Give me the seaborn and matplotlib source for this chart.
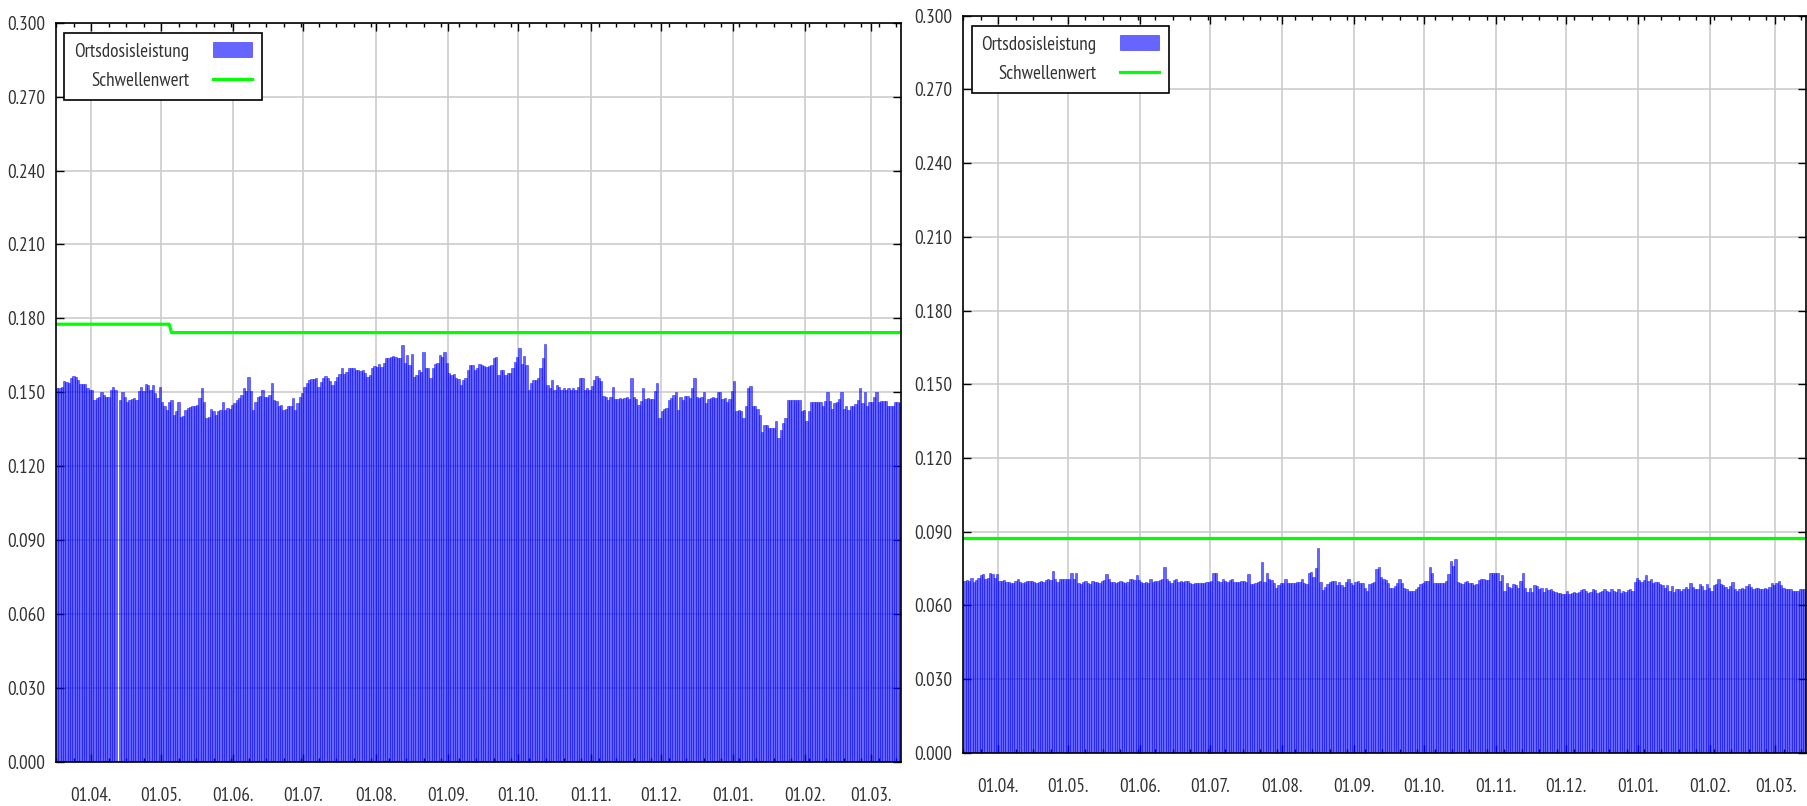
import matplotlib
matplotlib.use("Agg")
import numpy as np
import pandas as pd
import matplotlib.pyplot as plt
import matplotlib.dates as mdates
from matplotlib import font_manager
from matplotlib.ticker import AutoMinorLocator, FormatStrFormatter
import seaborn as sns


# one bar per day, first bar on 17.03.
start_day = "2018-03-17"
end_day = "2019-03-14"

left_values = [
    .1516, .1516, .1523, .1546, .1540, .1536, .1559, .1567, .1563, .1550,
    .1532, .1534, .1534, .1516, .1507, .1507, .1469, .1476, .1482, .1500,
    .1489, .1482, .1482, .1509, .1523, .1509, 0.0, .1469, .1500, .1482,
    .1462, .1469, .1473, .1476, .1469, .1503, .1523, .1503, .1532, .1530,
    .1509, .1530, .1496, .1476, .1523, .1462, .1442, .1428, .1462, .1469,
    .1408, .1424, .1462, .1401, .1404, .1428, .1435, .1439, .1442, .1442,
    .1449, .1476, .1516, .1462, .1395, .1401, .1433, .1422, .1408, .1422,
    .1428, .1462, .1428, .1435, .1433, .1449, .1455, .1469, .1476, .1489,
    .1516, .1503, .1563, .1503, .1428, .1462, .1482, .1486, .1509, .1482,
    .1482, .1489, .1536, .1469, .1465, .1442, .1449, .1428, .1433, .1442,
    .1442, .1476, .1428, .1455, .1482, .1496, .1523, .1536, .1550, .1553,
    .1554, .1557, .1523, .1543, .1557, .1567, .1557, .1546, .1530, .1546,
    .1563, .1573, .1597, .1573, .1584, .1597, .1597, .1597, .1590, .1590,
    .1586, .1590, .1577, .1563, .1570, .1597, .1608, .1604, .1613, .1604,
    .1617, .1638, .1638, .1644, .1647, .1642, .1640, .1638, .1692, .1617,
    .1651, .1611, .1654, .1563, .1570, .1590, .1584, .1662, .1597, .1597,
    .1559, .1597, .1613, .1617, .1651, .1644, .1662, .1617, .1577, .1570,
    .1573, .1557, .1554, .1530, .1550, .1559, .1590, .1611, .1611, .1590,
    .1597,
    .1614, .1611, .1608, .1604, .1608, .1611, .1638, .1641, .1568, .1591,
    .1591, .1570, .1577, .1577, .1597, .1622, .1641, .1679, .1614, .1645,
    .1611, .1509, .1537, .1550, .1550, .1557, .1597, .1638, .1695, .1530,
    .1516, .1550, .1509, .1530, .1523, .1509, .1516, .1509, .1516, .1509, .1516, .1509,
    .1523, .1557, .1557, .1509, .1519, .1509, .1527, .1550, .1564, .1557,
    .1546, .1486, .1482, .1469, .1482, .1523, .1473, .1473, .1478, .1473, .1476,
    .1482, .1473, .1557, .1482, .1473, .1449, .1465, .1516, .1473, .1478, .1473,
    .1473, .1503, .1537, .1394, .1422, .1432, .1435, .1469, .1478, .1489,
    .1500, .1428, .1482, .1469, .1486, .1486, .1476, .1516, .1557, .1482,
    .1476, .1482, .1500, .1455, .1473, .1478, .1482, .1478, .1500, .1500, .1473,
    .1476, .1462, .1473, .1503, .1546, .1422, .1428, .1424, .1397, .1442,
    .1519, .1527, .1442, .1442, .1432, .1408, .1340, .1367, .1367, .1354,
    .1354, .1354, .1384, .1313, .1347, .1374, .1394, .1469, .1469, .1469, .1469,
    .1469, .1469, .1424, .1428, .1384, .1422, .1459, .1459, .1459, .1459, .1459,
    .1442, .1465, .1500, .1465, .1432, .1455, .1462, .1473, .1500, .1432,
    .1446, .1428, .1442, .1442, .1451, .1469, .1516, .1455, .1500, .1442, .1462,
    .1462, .1482, .1500, .1462, .1465, .1465, .1465, .1442, .1442, .1442,
    .1459, .1459, .1455,
]

right_values = [
    .0700, .0703, .0700, .0710, .0696, .0703, .0710, .0723, .0726, .0707,
    .0710, .0733, .0728, .0710, .0726, .0700, .0700, .0703, .0696, .0696,
    .0690, .0692, .0700, .0706, .0696, .0692, .0696, .0700, .0700, .0700,
    .0696, .0692, .0696, .0700, .0696, .0703, .0706, .0703, .0741, .0706,
    .0696, .0707, .0707, .0707, .0707, .0707, .0733, .0706, .0733, .0692,
    .0687, .0696, .0700, .0690, .0687, .0700, .0696, .0696, .0692, .0700,
    .0703, .0726, .0706, .0696, .0696, .0692, .0696, .0700, .0696, .0692,
    .0696, .0706, .0706, .0703, .0723, .0703, .0696, .0692, .0696, .0692,
    .0707, .0696, .0700, .0700, .0703, .0706, .0757, .0706, .0700, .0692,
    .0703, .0707, .0696, .0700, .0696, .0700, .0700, .0692, .0687, .0692,
    .0692, .0690, .0692, .0692, .0696, .0696, .0700, .0733, .0733, .0700,
    .0696, .0707, .0700, .0696, .0703, .0707, .0696, .0696, .0696, .0700,
    .0700, .0696, .0726, .0687, .0687, .0692, .0696, .0700, .0775, .0696,
    .0733, .0706, .0703, .0690, .0669, .0683, .0692, .0692, .0706, .0692,
    .0690, .0692, .0692, .0696, .0696, .0706, .0692, .0687, .0730, .0737,
    .0717, .0751, .0832, .0696, .0662, .0673, .0687, .0696, .0700, .0700,
    .0683, .0696, .0683, .0673, .0696, .0706, .0692, .0683, .0696, .0700,
    .0692, .0690, .0669, .0660, .0687, .0692, .0696, .0747, .0755, .0717,
    .0706,
    .0703, .0690, .0669, .0669, .0679, .0692, .0706, .0692, .0669, .0665,
    .0660, .0660, .0660, .0665, .0673, .0687, .0692, .0700, .0700, .0757,
    .0733, .0692, .0692, .0692, .0692, .0692, .0700, .0728, .0782, .0760,
    .0787, .0696, .0692, .0687, .0696, .0700, .0690, .0692, .0683, .0687,
    .0703, .0707, .0707, .0703, .0703, .0730, .0733, .0730, .0733, .0700,
    .0723, .0660, .0692, .0673, .0669, .0687, .0683, .0669, .0700, .0730,
    .0669, .0656, .0669, .0656, .0683, .0679, .0665, .0669, .0656, .0669,
    .0662, .0665, .0660, .0656, .0652, .0652, .0646, .0646, .0660, .0646,
    .0652, .0656, .0652, .0656, .0662, .0665, .0660, .0652, .0656, .0665,
    .0662, .0652, .0656, .0660, .0665, .0660, .0656, .0665, .0660, .0656,
    .0665, .0652, .0660, .0656, .0662, .0665, .0660, .0696, .0710, .0703,
    .0696, .0703, .0723, .0700, .0706, .0692, .0696, .0696, .0687, .0683,
    .0669, .0683, .0660, .0679, .0656, .0665, .0665, .0660, .0665, .0673,
    .0665, .0692, .0673, .0665, .0665, .0687, .0679, .0662, .0687, .0669,
    .0660, .0683, .0687, .0706, .0687, .0683, .0673, .0665, .0679, .0696,
    .0665, .0660, .0665, .0669, .0665, .0679, .0687, .0673, .0665, .0669,
    .0669, .0665, .0665, .0669, .0665, .0673, .0692, .0683, .0692, .0700,
    .0683, .0669, .0665, .0665, .0665, .0660, .0660, .0660, .0665, .0665,
    .0665,
]

left_threshold_dates = ["2018-03-17 00:00", "2018-05-04 12:00", "2018-05-05 12:00", "2019-03-14 00:00"]
left_threshold_values = [0.1776, 0.1776, 0.1742, 0.1742]
right_threshold_dates = ["2018-03-17 00:00", "2019-03-14 00:00"]
right_threshold_values = [0.0873, 0.0873]

y_ticks = [0.000, 0.030, 0.060, 0.090, 0.120, 0.150, 0.180, 0.210, 0.240, 0.270, 0.300]
legend_labels = ["Ortsdosisleistung", "Schwellenwert"]

# narrow font if there is one, else monospace
installed = {f.name for f in font_manager.fontManager.ttflist}
candidates = ["PT Sans Narrow", "Roboto Condensed", "Archivo Narrow", "Liberation Sans Narrow",
              "Open Sans Condensed", "Fira Sans Condensed", "IBM Plex Sans Condensed",
              "Asap Condensed", "Encode Sans Condensed"]
font_name = next((c for c in candidates if c in installed), "DejaVu Sans Mono")
plt.rcParams["font.family"] = [font_name, "DejaVu Sans"]

fig = plt.figure(figsize=(18.08, 8.06), dpi=100)

# size the font so "0.300" is as wide as in the reference (about 38 px)
probe = fig.text(0, 0, "0.300", fontsize=10)
probe_w = probe.get_window_extent(renderer=fig.canvas.get_renderer()).width
probe.remove()
fs = 10 * 38.0 / probe_w
fs_px = fs * 100 / 72

text_col = "#333333"


def draw_panel(ax, values, thr_dates, thr_values, xpad):
    day_x = mdates.date2num(pd.date_range(start_day + " 12:00", periods=len(values), freq="D"))
    thr_x = mdates.date2num(pd.to_datetime(thr_dates))

    sns.barplot(x=day_x, y=values, native_scale=True, width=1.0, color="#0000ff",
                saturation=1, alpha=0.6, edgecolor="#0000ff", linewidth=0.5,
                errorbar=None, label=legend_labels[0], ax=ax)
    sns.lineplot(x=thr_x, y=thr_values, color="#00ff00", linewidth=2.3,
                 label=legend_labels[1], ax=ax)

    ax.set_xlim(mdates.date2num(pd.Timestamp(start_day)), mdates.date2num(pd.Timestamp(end_day)))
    ax.set_ylim(0, 0.3)
    ax.set_yticks(y_ticks)
    ax.yaxis.set_major_formatter(FormatStrFormatter("%.3f"))
    ax.xaxis.set_major_locator(mdates.MonthLocator())
    ax.xaxis.set_major_formatter(mdates.DateFormatter("%d.%m."))
    ax.xaxis.set_minor_locator(AutoMinorLocator(4))
    ax.set_xlabel("")
    ax.set_ylabel("")

    ax.set_axisbelow(True)
    ax.grid(True, which="major", color="#cccccc", linewidth=1.2)
    ax.tick_params(which="both", direction="in", top=True, right=True, color="black",
                   labelsize=fs, labelcolor=text_col)
    ax.tick_params(which="major", length=6, width=1)
    ax.tick_params(which="minor", length=3, width=1)
    ax.tick_params(axis="y", pad=7.9)
    ax.tick_params(axis="x", pad=xpad)
    for sp in ax.spines.values():
        sp.set_color("black")
        sp.set_linewidth(1.2)

    handles, labels = ax.get_legend_handles_labels()
    order = [labels.index(l) for l in legend_labels]
    leg = ax.legend([handles[i] for i in order], [labels[i] for i in order],
                    loc="upper left", bbox_to_anchor=(0.0098, 0.9865), borderaxespad=0,
                    markerfirst=False, frameon=True, fancybox=False, edgecolor="black",
                    framealpha=1, fontsize=fs, handlelength=39 / fs_px,
                    handleheight=16 / fs_px, handletextpad=1.25,
                    borderpad=0.5, labelspacing=0.6)
    leg.get_frame().set_linewidth(1.2)
    for t in leg.get_texts():
        t.set_color(text_col)


ax1 = fig.add_axes([0.03097, 0.05496, 0.46737, 0.91687])
ax2 = fig.add_axes([0.53280, 0.06613, 0.46593, 0.91439])

draw_panel(ax1, left_values, left_threshold_dates, left_threshold_values, 18.0)
draw_panel(ax2, right_values, right_threshold_dates, right_threshold_values, 18.5)

fig.savefig("out.png", dpi=100)
